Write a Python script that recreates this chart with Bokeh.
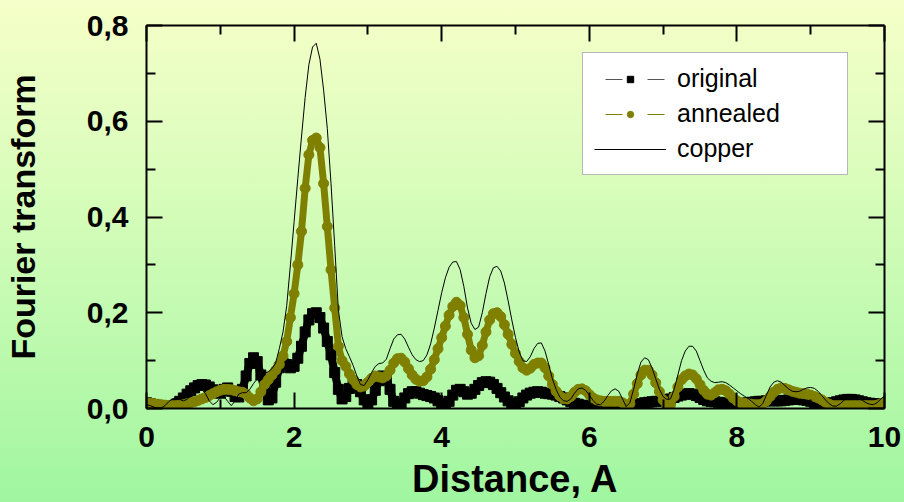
from bokeh.plotting import figure
from bokeh.models import (LinearAxis, FixedTicker, CustomJSTickFormatter, Legend,
                          LegendItem, Range1d, GlobalInlineStyleSheet)
from bokeh.embed import file_html
from bokeh.resources import INLINE

# Distance grid (Angstrom), step 0.05
distance = [round(i * 0.05, 2) for i in range(201)]

original = [
    0.012, 0.010, 0.008, 0.006, 0.004, 0.003, 0.003, 0.005, 0.009, 0.015,
    0.022, 0.030, 0.037, 0.043, 0.048, 0.050, 0.049, 0.045, 0.039, 0.033,
    0.032, 0.040, 0.043, 0.036, 0.025, 0.024, 0.040, 0.068, 0.094, 0.106,
    0.098, 0.070, 0.038, 0.018, 0.022, 0.055, 0.085, 0.095, 0.092, 0.085,
    0.088, 0.105, 0.130, 0.160, 0.185, 0.198, 0.200, 0.190, 0.168, 0.140,
    0.112, 0.075, 0.040, 0.020, 0.025, 0.042, 0.054, 0.050, 0.035, 0.018,
    0.010, 0.018, 0.038, 0.058, 0.068, 0.062, 0.040, 0.015, 0.004, 0.010,
    0.022, 0.031, 0.035, 0.035, 0.032, 0.029, 0.027, 0.025, 0.022, 0.016,
    0.010, 0.008, 0.015, 0.028, 0.038, 0.040, 0.035, 0.030, 0.032, 0.040,
    0.048, 0.054, 0.056, 0.055, 0.050, 0.042, 0.033, 0.024, 0.016, 0.011,
    0.010, 0.014, 0.022, 0.028, 0.032, 0.034, 0.035, 0.034, 0.032, 0.031,
    0.030, 0.028, 0.025, 0.022, 0.018, 0.014, 0.011, 0.009, 0.007, 0.006,
    0.005, 0.005, 0.005, 0.005, 0.005, 0.005, 0.005, 0.005, 0.005, 0.005,
    0.005, 0.006, 0.007, 0.008, 0.010, 0.012, 0.013, 0.014, 0.015, 0.015,
    0.016, 0.018, 0.020, 0.023, 0.026, 0.028, 0.030, 0.031, 0.030, 0.027,
    0.023, 0.019, 0.016, 0.015, 0.014, 0.013, 0.012, 0.011, 0.010, 0.010,
    0.010, 0.010, 0.011, 0.012, 0.013, 0.014, 0.015, 0.015, 0.016, 0.016,
    0.016, 0.016, 0.016, 0.017, 0.018, 0.019, 0.019, 0.019, 0.018, 0.017,
    0.015, 0.013, 0.011, 0.010, 0.010, 0.011, 0.012, 0.014, 0.016, 0.018,
    0.019, 0.019, 0.018, 0.016, 0.014, 0.012, 0.011, 0.010, 0.010, 0.010,
    0.010,
]

annealed = [
    0.012, 0.011, 0.010, 0.009, 0.008, 0.007, 0.006, 0.006, 0.006, 0.007,
    0.008, 0.010, 0.012, 0.014, 0.017, 0.020, 0.023, 0.027, 0.031, 0.035,
    0.038, 0.040, 0.040, 0.039, 0.037, 0.035, 0.034, 0.030, 0.022, 0.016,
    0.020, 0.035, 0.050, 0.060, 0.070, 0.080, 0.092, 0.110, 0.140, 0.190,
    0.240, 0.300, 0.370, 0.460, 0.530, 0.560, 0.565, 0.545, 0.470, 0.380,
    0.290, 0.210, 0.130, 0.100, 0.088, 0.072, 0.060, 0.050, 0.045, 0.047,
    0.055, 0.063, 0.068, 0.066, 0.064, 0.068, 0.080, 0.095, 0.104, 0.105,
    0.097, 0.083, 0.070, 0.061, 0.057, 0.058, 0.066, 0.082, 0.102, 0.125,
    0.148, 0.172, 0.195, 0.213, 0.222, 0.215, 0.190, 0.155, 0.122, 0.106,
    0.110, 0.132, 0.160, 0.185, 0.198, 0.200, 0.192, 0.175, 0.155, 0.134,
    0.115, 0.098, 0.085, 0.080, 0.084, 0.092, 0.095, 0.095, 0.085, 0.068,
    0.050, 0.036, 0.026, 0.021, 0.020, 0.025, 0.034, 0.040, 0.041, 0.037,
    0.029, 0.022, 0.018, 0.016, 0.015, 0.015, 0.015, 0.015, 0.015, 0.012,
    0.006, 0.010, 0.030, 0.052, 0.070, 0.080, 0.080, 0.070, 0.054, 0.035,
    0.018, 0.006, 0.008, 0.025, 0.045, 0.060, 0.068, 0.072, 0.070, 0.062,
    0.050, 0.038, 0.030, 0.028, 0.033, 0.039, 0.040, 0.037, 0.030, 0.022,
    0.016, 0.012, 0.011, 0.010, 0.009, 0.008, 0.008, 0.010, 0.016, 0.025,
    0.034, 0.040, 0.043, 0.042, 0.039, 0.036, 0.034, 0.032, 0.031, 0.030,
    0.028, 0.025, 0.022, 0.018, 0.013, 0.009, 0.006, 0.006, 0.006, 0.006,
    0.006, 0.006, 0.006, 0.006, 0.006, 0.006, 0.006, 0.006, 0.007, 0.010,
    0.013,
]

copper = [
    0.008, 0.006, 0.003, 0.001, 0.001, 0.006, 0.014, 0.020, 0.022, 0.019,
    0.016, 0.019, 0.027, 0.035, 0.040, 0.040, 0.031, 0.016, 0.008, 0.013,
    0.023, 0.025, 0.015, 0.006, 0.016, 0.030, 0.033, 0.033, 0.040, 0.052,
    0.062, 0.068, 0.073, 0.077, 0.083, 0.095, 0.125, 0.160, 0.215, 0.300,
    0.390, 0.480, 0.567, 0.650, 0.718, 0.755, 0.763, 0.730, 0.665, 0.585,
    0.470, 0.340, 0.206, 0.150, 0.125, 0.108, 0.090, 0.068, 0.050, 0.048,
    0.060, 0.075, 0.088, 0.094, 0.095, 0.103, 0.125, 0.145, 0.154, 0.155,
    0.145, 0.128, 0.112, 0.102, 0.098, 0.100, 0.112, 0.135, 0.168, 0.205,
    0.242, 0.273, 0.295, 0.306, 0.307, 0.290, 0.255, 0.210, 0.178, 0.165,
    0.170, 0.200, 0.240, 0.275, 0.294, 0.297, 0.287, 0.262, 0.225, 0.185,
    0.148, 0.118, 0.100, 0.098, 0.108, 0.125, 0.136, 0.137, 0.120, 0.092,
    0.062, 0.040, 0.024, 0.016, 0.015, 0.020, 0.032, 0.041, 0.043, 0.038,
    0.028, 0.017, 0.009, 0.008, 0.015, 0.027, 0.037, 0.041, 0.036, 0.020,
    0.004, 0.012, 0.040, 0.072, 0.097, 0.106, 0.102, 0.085, 0.062, 0.040,
    0.025, 0.019, 0.020, 0.040, 0.070, 0.100, 0.120, 0.130, 0.130, 0.120,
    0.100, 0.080, 0.064, 0.057, 0.054, 0.055, 0.056, 0.054, 0.049, 0.043,
    0.037, 0.031, 0.026, 0.021, 0.015, 0.008, 0.003, 0.010, 0.028, 0.045,
    0.055, 0.058, 0.055, 0.048, 0.041, 0.036, 0.035, 0.036, 0.040, 0.043,
    0.044, 0.042, 0.036, 0.027, 0.018, 0.010, 0.005, 0.005, 0.010, 0.017,
    0.022, 0.025, 0.025, 0.022, 0.017, 0.012, 0.009, 0.008, 0.012, 0.020,
    0.026,
]

x_major = [0, 2, 4, 6, 8, 10]
x_minor = [1, 3, 5, 7, 9]
y_major = [0.0, 0.2, 0.4, 0.6, 0.8]
y_minor = [0.1, 0.3, 0.5, 0.7]

OLIVE = "#808000"
FONT = "Liberation Sans"
NAN = [float("nan")]

p = figure(width=904, height=502, x_range=Range1d(0, 10), y_range=Range1d(0, 0.8),
           output_backend="svg", toolbar_location=None,
           min_border_left=145, min_border_right=20, min_border_top=25,
           min_border_bottom=93)
p.background_fill_alpha = 0
p.border_fill_alpha = 0
p.outline_line_color = None
p.grid.visible = False

p.stylesheets = [GlobalInlineStyleSheet(
    css="html, body { background: linear-gradient(to bottom, #F6FFC9 0%, #D2FCB8 45%, #A0F6A0 100%) fixed; min-height: 100%; }")]

def style_axis(ax, ticker, show):
    ax.ticker = ticker
    ax.axis_line_width = 2
    ax.axis_line_color = "black"
    ax.major_tick_line_width = 2
    ax.minor_tick_line_width = 2
    ax.major_tick_in = 16
    ax.major_tick_out = 0
    ax.minor_tick_in = 9
    ax.minor_tick_out = 0
    if show:
        ax.major_label_text_font = FONT
        ax.major_label_text_font_style = "bold"
        ax.major_label_text_font_size = "30px"
        ax.major_label_text_color = "black"
        ax.axis_label_text_font = FONT
        ax.axis_label_text_font_style = "bold"
        ax.axis_label_text_color = "black"
    else:
        ax.formatter = CustomJSTickFormatter(code="return '';")
        ax.major_label_standoff = 0
        ax.axis_label = None

xt = FixedTicker(ticks=x_major, minor_ticks=x_minor)
yt = FixedTicker(ticks=y_major, minor_ticks=y_minor)

xb = p.xaxis[0]
style_axis(xb, xt, True)
xb.axis_label = "Distance, A"
xb.axis_label_text_font_size = "38px"
xb.major_label_standoff = 18
xb.axis_label_standoff = 8

yl = p.yaxis[0]
style_axis(yl, yt, True)
yl.axis_label = "Fourier transform"
yl.axis_label_text_font_size = "34px"
yl.major_label_standoff = 18
yl.axis_label_standoff = 42
yl.formatter = CustomJSTickFormatter(code="return tick.toFixed(1).replace('.', ',');")

xa = LinearAxis()
style_axis(xa, FixedTicker(ticks=x_major, minor_ticks=x_minor), False)
p.add_layout(xa, "above")
yr = LinearAxis()
style_axis(yr, FixedTicker(ticks=y_major, minor_ticks=y_minor), False)
p.add_layout(yr, "right")

# data: dense marker bands (thick line under the markers)
p.line(distance, original, line_color="black", line_width=8, line_join="round")
p.scatter(distance, original, marker="square", size=10, color="black")
p.line(distance, annealed, line_color=OLIVE, line_width=7, line_join="round")
p.scatter(distance, annealed, marker="circle", size=10, color=OLIVE)
p.line(distance, copper, line_color="black", line_width=1)

# legend-only glyphs (no visible data)
lg_o_line = p.line(x=NAN, y=NAN, line_color="#555555", line_width=1,
                   line_dash="17 25", line_dash_offset=31)
lg_o_mark = p.scatter(x=NAN, y=NAN, marker="square", color="black")
lg_a_line = p.line(x=NAN, y=NAN, line_color=OLIVE, line_width=1,
                   line_dash="17 25", line_dash_offset=31)
lg_a_mark = p.scatter(x=NAN, y=NAN, marker="circle", color=OLIVE)
lg_c_line = p.line(x=NAN, y=NAN, line_color="black", line_width=1)

legend = Legend(items=[
    LegendItem(label="original", renderers=[lg_o_line, lg_o_mark]),
    LegendItem(label="annealed", renderers=[lg_a_line, lg_a_mark]),
    LegendItem(label="copper", renderers=[lg_c_line]),
], location=(436, 233))
legend.label_text_font = FONT
legend.label_text_font_size = "25px"
legend.label_text_color = "black"
legend.border_line_color = "#707070"
legend.border_line_width = 1
legend.background_fill_color = "white"
legend.background_fill_alpha = 1
legend.padding = 11
legend.spacing = 6
legend.margin = 0
legend.label_height = 29
legend.glyph_height = 16
legend.glyph_width = 72
legend.label_standoff = 11
legend.label_width = 159
p.add_layout(legend, "center")

open("out.html", "w").write(file_html(p, INLINE))
